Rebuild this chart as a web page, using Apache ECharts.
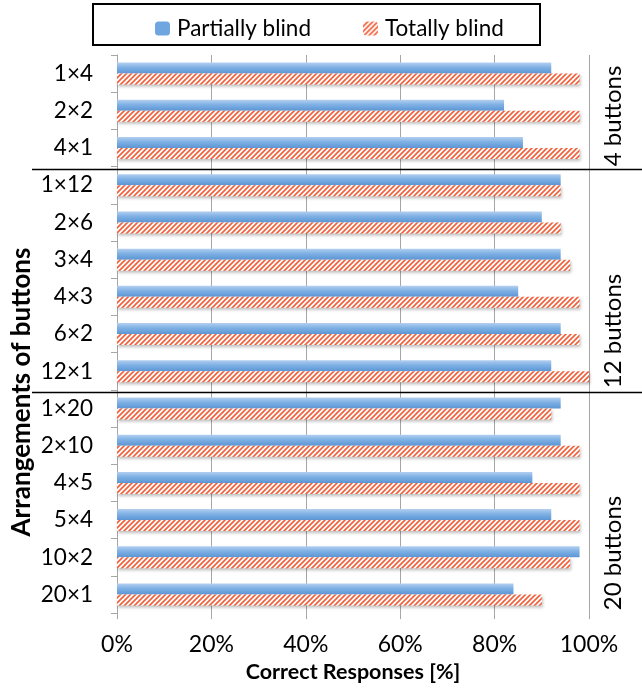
<!DOCTYPE html>
<html>
<head>
<meta charset="utf-8">
<script src="https://cdn.jsdelivr.net/npm/echarts@6/dist/echarts.min.js"></script>
<style>
  html, body { margin: 0; padding: 0; background: #fff; }
  #chart { width: 642px; height: 688px; }
</style>
</head>
<body>
<div id="chart"></div>
<script>
// Button arrangements, top to bottom
const categories = ['1×4', '2×2', '4×1',
  '1×12', '2×6', '3×4', '4×3', '6×2', '12×1',
  '1×20', '2×10', '4×5', '5×4', '10×2', '20×1'];

// Correct responses in percent
const partiallyBlind = [92, 82, 86, 94, 90, 94, 85, 94, 92, 94, 94, 88, 92, 98, 84];
const totallyBlind   = [98, 98, 98, 94, 94, 96, 98, 98, 100, 92, 98, 98, 98, 96, 90];

// Groups of arrangements by number of buttons (first and last index)
const groupNames = ['4 buttons', '12 buttons', '20 buttons'];
const groupRanges = [[0, 2], [3, 8], [9, 14]];

const xTicks = [0, 20, 40, 60, 80, 100];

const FONT = 'Lato';

// Diagonal red hatch used for the "Totally blind" bars
function hatchCanvas() {
  const c = document.createElement('canvas');
  const s = 5;
  c.width = s; c.height = s;
  const g = c.getContext('2d');
  g.fillStyle = '#ffffff';
  g.fillRect(0, 0, s, s);
  g.strokeStyle = '#f0623e';
  g.lineWidth = 1.7;
  g.beginPath();
  g.moveTo(-1, s + 1); g.lineTo(s + 1, -1);
  g.moveTo(-1, 1); g.lineTo(1, -1);
  g.moveTo(s - 1, s + 1); g.lineTo(s + 1, s - 1);
  g.stroke();
  return c;
}

const blueFill = new echarts.graphic.LinearGradient(0, 0, 0, 1, [
  { offset: 0, color: '#b3cff0' },
  { offset: 0.45, color: '#7eb0e4' },
  { offset: 1, color: '#5c96d5' }
]);

const chart = echarts.init(document.getElementById('chart'), null, { renderer: 'canvas' });

const grid = { left: 117, right: 53, top: 55, bottom: 71 };

const option = {
  animation: false,
  backgroundColor: '#ffffff',
  grid: grid,
  legend: {
    left: 150, top: 12,
    itemWidth: 15, itemHeight: 14, itemGap: 52,
    textStyle: { fontFamily: FONT, fontSize: 22.5, color: '#000', padding: [0, 0, 0, 2] },
    data: [
      { name: 'Partially blind', itemStyle: { color: '#6fa6e0', shadowBlur: 0 } },
      { name: 'Totally blind', itemStyle: { shadowBlur: 0 } }
    ]
  },
  xAxis: {
    type: 'value', min: 0, max: 100, interval: 20,
    name: 'Correct Responses [%]',
    nameLocation: 'middle', nameGap: 45,
    nameTextStyle: { fontFamily: FONT, fontWeight: 'bold', fontSize: 21.5, color: '#000' },
    axisLine: { show: false },
    axisTick: { show: true, length: 6, lineStyle: { color: '#a6a6a6' } },
    axisLabel: {
      margin: 20, fontFamily: FONT, fontSize: 23, color: '#000',
      formatter: v => xTicks.includes(v) ? v + '%' : ''
    },
    splitLine: { show: true, lineStyle: { color: '#a6a6a6', width: 1 } }
  },
  yAxis: {
    type: 'category', inverse: true, data: categories,
    axisLine: { show: true, lineStyle: { color: '#a6a6a6' } },
    axisTick: { show: true, length: 6, lineStyle: { color: '#a6a6a6' } },
    axisLabel: { margin: 24, fontFamily: FONT, fontSize: 22.5, color: '#000' }
  },
  series: [
    {
      name: 'Partially blind', type: 'bar', data: partiallyBlind,
      barWidth: 11, barGap: '0%',
      itemStyle: {
        color: blueFill,
        shadowColor: 'rgba(0,0,0,0.3)', shadowBlur: 3, shadowOffsetX: 1, shadowOffsetY: 2
      }
    },
    {
      name: 'Totally blind', type: 'bar', data: totallyBlind,
      barWidth: 11, barGap: '0%',
      itemStyle: {
        color: { image: hatchCanvas(), repeat: 'repeat' },
        shadowColor: 'rgba(0,0,0,0.25)', shadowBlur: 3, shadowOffsetX: 1, shadowOffsetY: 2
      }
    }
  ]
};

chart.setOption(option);

// Legend frame, group dividers and group names
function addAnnotations() {
  const elements = [];
  elements.push({
    type: 'rect', shape: { x: 93, y: 4, width: 447, height: 41 },
    style: { fill: 'none', stroke: '#000', lineWidth: 2 }, z: 10
  });
  const band = chart.convertToPixel({ yAxisIndex: 0 }, categories[1]) -
               chart.convertToPixel({ yAxisIndex: 0 }, categories[0]);
  groupRanges.forEach((r, i) => {
    if (i > 0) {
      const y = Math.round(chart.convertToPixel({ yAxisIndex: 0 }, categories[r[0]]) - band / 2) + 2.5;
      elements.push({
        type: 'line', shape: { x1: 32, y1: y, x2: 642, y2: y },
        style: { stroke: '#000', lineWidth: 1.5 }, z: 10
      });
    }
  });
  const labelY = [116, 331, 553];
  groupNames.forEach((name, i) => {
    elements.push({
      type: 'text', x: 613, y: labelY[i], rotation: Math.PI / 2,
      style: {
        text: name, fontFamily: FONT, fontSize: 24, fill: '#000',
        align: 'center', verticalAlign: 'middle'
      }, z: 10
    });
  });
  elements.push({
    type: 'text', x: 22, y: 392, rotation: Math.PI / 2,
    style: {
      text: 'Arrangements of buttons', fontFamily: FONT, fontSize: 26, fontWeight: 'bold',
      fill: '#000', align: 'center', verticalAlign: 'middle'
    }, z: 10
  });
  chart.setOption({ graphic: elements });
}
addAnnotations();
</script>
</body>
</html>
